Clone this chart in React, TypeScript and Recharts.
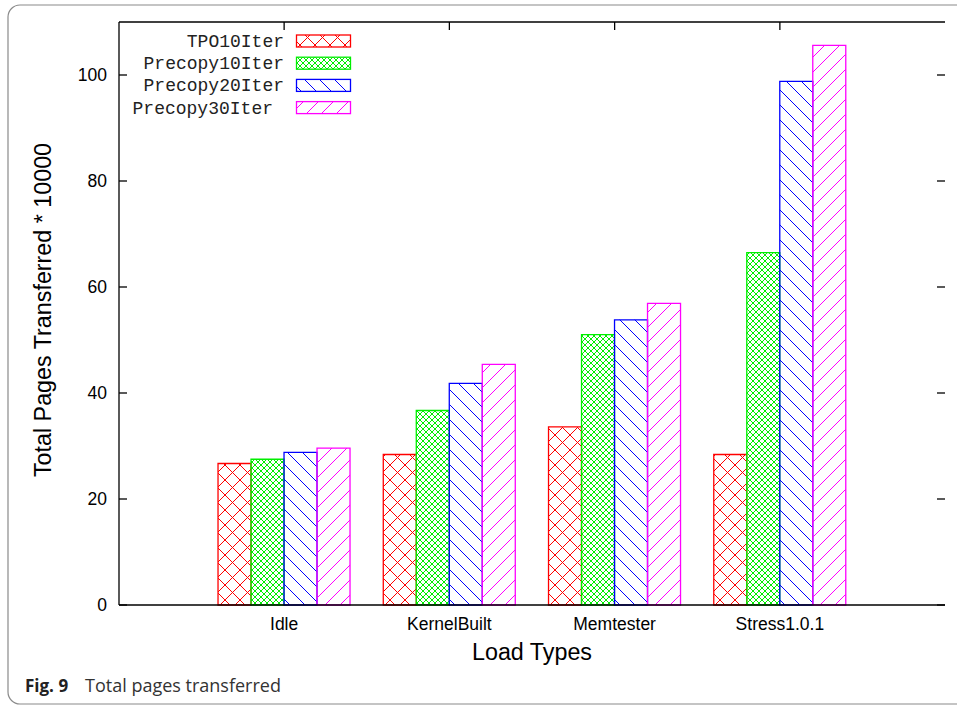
import { BarChart, Bar, XAxis, YAxis, Legend, ReferenceLine, Label } from "recharts";

const CATEGORIES = ["Idle", "KernelBuilt", "Memtester", "Stress1.0.1"];
const TPO10 = [26.7, 28.4, 33.6, 28.4];
const PRECOPY10 = [27.5, 36.7, 51.0, 66.5];
const PRECOPY20 = [28.8, 41.8, 53.8, 98.8];
const PRECOPY30 = [29.6, 45.4, 56.9, 105.6];
const Y_TICKS = [0, 20, 40, 60, 80, 100];

const SERIES = [
  { key: "tpo10", name: "TPO10Iter", values: TPO10, color: "#ff0000", fill: "url(#pat-red)" },
  { key: "pre10", name: "Precopy10Iter", values: PRECOPY10, color: "#00ee00", fill: "url(#pat-green)" },
  { key: "pre20", name: "Precopy20Iter", values: PRECOPY20, color: "#0000ff", fill: "url(#pat-blue)" },
  { key: "pre30", name: "Precopy30Iter", values: PRECOPY30, color: "#ff00ff", fill: "url(#pat-magenta)" },
];

const data = CATEGORIES.map((name, i) => {
  const row: Record<string, string | number> = { name };
  SERIES.forEach((s) => (row[s.key] = s.values[i]));
  return row;
});

// plot box in page pixels
const PLOT = { left: 119, right: 945, top: 22, bottom: 605 };
const SANS = "'Liberation Sans', Arial, Helvetica, sans-serif";
const MONO = "'Liberation Mono', 'Courier New', monospace";

const YTick = ({ y, payload }: any) => (
  <g>
    <line x1={PLOT.left} x2={PLOT.left + 8} y1={y} y2={y} stroke="#000" strokeWidth={1.3} />
    <line x1={PLOT.right - 8} x2={PLOT.right} y1={y} y2={y} stroke="#000" strokeWidth={1.3} />
    <text x={PLOT.left - 12} y={y} dy="0.36em" textAnchor="end" fontFamily={SANS} fontSize={17.5} fill="#000">
      {payload.value}
    </text>
  </g>
);

const XTick = ({ x, payload }: any) => (
  <g>
    <line x1={x} x2={x} y1={PLOT.top} y2={PLOT.top + 8} stroke="#000" strokeWidth={1.3} />
    <text x={x} y={630} textAnchor="middle" fontFamily={SANS} fontSize={17.5} fill="#000">
      {payload.value}
    </text>
  </g>
);

const LegendBox = () => (
  <svg width={240} height={92} style={{ display: "block" }}>
    {SERIES.map((s, i) => {
      const cy = 11 + i * 22.2;
      const indent = i === 3 ? 11 : 0;
      return (
        <g key={s.key}>
          <text x={164 - indent} y={cy} dy="0.33em" textAnchor="end" fontFamily={MONO} fontSize={18} fill="#222">
            {s.name}
          </text>
          <rect x={176.5} y={cy - 6} width={54} height={12} fill={s.fill} stroke={s.color} strokeWidth={1.3} />
        </g>
      );
    })}
  </svg>
);

const Patterns = () => (
  <defs>
    <pattern id="pat-red" width={15} height={15} patternUnits="userSpaceOnUse">
      <path d="M0,0 L15,15 M15,0 L0,15" stroke="#ff0000" strokeWidth={1} fill="none" shapeRendering="crispEdges" />
    </pattern>
    <pattern id="pat-green" width={6} height={6} patternUnits="userSpaceOnUse">
      <path d="M0,0 L6,6 M6,0 L0,6" stroke="#00ee00" strokeWidth={1} fill="none" shapeRendering="crispEdges" />
    </pattern>
    <pattern id="pat-blue" width={15} height={15} patternUnits="userSpaceOnUse">
      <path d="M-1,-1 L16,16 M-1,14 L1,16 M14,-1 L16,1" stroke="#0000ff" strokeWidth={1} fill="none" shapeRendering="crispEdges" />
    </pattern>
    <pattern id="pat-magenta" width={15} height={15} patternUnits="userSpaceOnUse">
      <path d="M-1,16 L16,-1 M-1,1 L1,-1 M14,16 L16,14" stroke="#ff00ff" strokeWidth={1} fill="none" shapeRendering="crispEdges" />
    </pattern>
  </defs>
);

const Y_LABEL_X = 51;
const Y_LABEL_CY = 310;

export default function App() {
  return (
    <div style={{ position: "absolute", left: 0, top: 0, width: 957, height: 706, background: "#fff" }}>
      <svg width={957} height={706} style={{ position: "absolute", left: 0, top: 0, pointerEvents: "none" }}>
        <Patterns />
        <rect x={8} y={5} width={1000} height={699} rx={12} fill="none" stroke="#8a8a8a" strokeWidth={1.2} />
        <text x={25} y={692} fontFamily="'Open Sans', 'Noto Sans', sans-serif" fontSize={17} fontWeight="bold" fill="#222">
          Fig. 9
        </text>
        <text x={85} y={692} fontFamily="'Open Sans', 'Noto Sans', sans-serif" fontSize={18} fill="#333">
          Total pages transferred
        </text>
      </svg>
      <BarChart
        width={957}
        height={706}
        data={data}
        margin={{ top: PLOT.top, right: 957 - PLOT.right, bottom: 41, left: 59 }}
        barCategoryGap="10%"
        barGap={0}
      >
        <XAxis
          dataKey="name"
          height={60}
          padding={{ left: 82.5, right: 82.5 }}
          tickLine={false}
          tick={<XTick />}
          axisLine={{ stroke: "#000", strokeWidth: 1.3 }}
          interval={0}
        >
          <Label
            content={() => (
              <text x={(PLOT.left + PLOT.right) / 2} y={660} textAnchor="middle" fontFamily={SANS} fontSize={23.3} fill="#000">
                Load Types
              </text>
            )}
          />
        </XAxis>
        <YAxis
          width={60}
          domain={[0, 110]}
          ticks={Y_TICKS}
          tickLine={false}
          tick={<YTick />}
          axisLine={{ stroke: "#000", strokeWidth: 1.3 }}
        >
          <Label
            content={() => (
              <text
                x={Y_LABEL_X}
                y={Y_LABEL_CY}
                transform={`rotate(-90 ${Y_LABEL_X} ${Y_LABEL_CY})`}
                textAnchor="middle"
                fontFamily={SANS}
                fontSize={23.3}
                fill="#000"
              >
                Total Pages Transferred * 10000
              </text>
            )}
          />
        </YAxis>
        <YAxis
          yAxisId="right"
          orientation="right"
          width={0}
          domain={[0, 110]}
          allowDataOverflow
          tick={false}
          tickLine={false}
          axisLine={{ stroke: "#000", strokeWidth: 1.3 }}
        />
        <ReferenceLine y={110} stroke="#000" strokeWidth={1.3} />
        <Legend
          layout="vertical"
          align="center"
          verticalAlign="middle"
          wrapperStyle={{ left: 120, top: 30, width: 240 }}
          content={<LegendBox />}
        />
        {SERIES.map((s) => (
          <Bar
            key={s.key}
            dataKey={s.key}
            name={s.name}
            fill={s.fill}
            stroke={s.color}
            strokeWidth={1.3}
            isAnimationActive={false}
          />
        ))}
      </BarChart>
    </div>
  );
}
